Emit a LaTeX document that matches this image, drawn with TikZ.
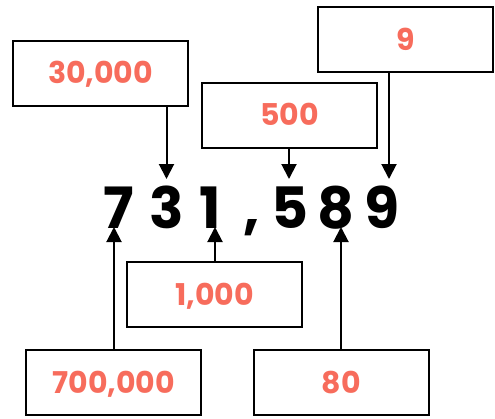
\documentclass[tikz,border=0pt]{standalone}
\usepackage{fontspec}
\setmainfont{Poppins}
\usetikzlibrary{arrows.meta}
\definecolor{placecol}{RGB}{247,108,92}
\begin{document}
\begin{tikzpicture}[x=1pt,y=-1pt,line width=2pt,
        >={Triangle[width=15pt,length=15pt]},
        box/.style={draw,minimum width=175pt,minimum height=65pt,text=placecol,
            font=\fontsize{30}{30}\selectfont\bfseries,text height=21pt,text depth=0pt},
        digit/.style={font=\fontsize{57}{57}\selectfont\bfseries,inner sep=0pt,
            text height=40pt,text depth=0pt,anchor=base}]
        \useasboundingbox (0,0) rectangle (495,418);
        %% the number
        \foreach \d/\x in {7/119,3/166.5,1/210,5/290,8/336,9/382}
            \node[digit] (d\d) at (\x,228) {\d};
        \node[digit] (comma) at (252,228) {,};
        %% place values
        \foreach \n/\t/\x/\y in {b30k/{30,000}/100.5/73,b9/9/405.8/39.5,b500/500/289.7/115.3,
                b1k/{1,000}/214.8/294.5,b700k/{700,000}/113.8/382.8,b80/80/341.3/382.8}
            \node[box] (\n) at (\x,\y) {\t};
        %% arrows
        \foreach \b/\d/\s in {b30k/3/0,b500/5/-1,b9/9/7}
            \draw[->,shorten >=8pt] ([xshift=\s pt]d\d.north |- \b.south) -- ([xshift=\s pt]d\d.north);
        \foreach \b/\d/\s in {b700k/7/-5,b1k/1/5,b80/8/5}
            \draw[->,shorten >=-2pt] ([xshift=\s pt]d\d.south |- \b.north) -- ([xshift=\s pt]d\d.south);
    \end{tikzpicture}
\end{document}
